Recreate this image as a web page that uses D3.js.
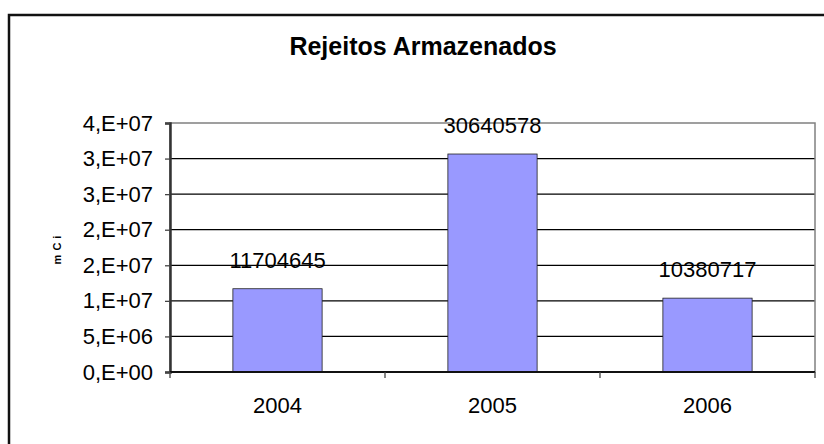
<!DOCTYPE html>
<html>
<head>
<meta charset="utf-8">
<script src="https://cdn.jsdelivr.net/npm/d3@7"></script>
<style>
  body { margin: 0; background: #fff; }
  text { font-family: "Liberation Sans", Arial, sans-serif; fill: #000; }
</style>
</head>
<body>
<svg id="chart" width="824" height="444"></svg>
<script>
//// chart data
var years = ["2004", "2005", "2006"];
var stored = [11704645, 30640578, 10380717];
var yTicks = [0, 5e6, 1e7, 1.5e7, 2e7, 2.5e7, 3e7, 3.5e7];
var yTickLabels = ["0,E+00", "5,E+06", "1,E+07", "2,E+07", "2,E+07", "3,E+07", "3,E+07", "4,E+07"];

var svg = d3.select("svg#chart");
var plot = {left: 170, right: 815, top: 123, bottom: 372};

// outer chart border (runs off the picture at right and bottom)
svg.append("rect")
   .attr("x", 9).attr("y", 15)
   .attr("width", 840).attr("height", 460)
   .attr("fill", "#fff")
   .attr("stroke", "#111")
   .attr("stroke-width", 2.5);

// title
svg.append("text")
   .attr("x", 423).attr("y", 55)
   .attr("text-anchor", "middle")
   .style("font-size", "25px")
   .style("font-weight", "bold")
   .text("Rejeitos Armazenados");

// scales
var x = d3.scaleBand()
          .domain(years)
          .range([plot.left, plot.right])
          .paddingInner(0.585)
          .paddingOuter(0.2925);

var y = d3.scaleLinear()
          .domain([0, 3.5e7])
          .range([plot.bottom, plot.top]);

// gridlines
svg.append("g")
   .selectAll("line")
   .data(yTicks.slice(1, -1))
   .enter().append("line")
   .attr("x1", plot.left).attr("x2", plot.right)
   .attr("y1", function(d) { return y(d); })
   .attr("y2", function(d) { return y(d); })
   .attr("stroke", "#000")
   .attr("stroke-width", 1.3);

// plot area border
svg.append("rect")
   .attr("x", plot.left).attr("y", plot.top)
   .attr("width", plot.right - plot.left)
   .attr("height", plot.bottom - plot.top)
   .attr("fill", "none")
   .attr("stroke", "#808080")
   .attr("stroke-width", 1.5);

// bars
svg.append("g")
   .selectAll("rect")
   .data(stored)
   .enter().append("rect")
   .attr("x", function(d, i) { return x(years[i]); })
   .attr("y", function(d) { return y(d); })
   .attr("width", x.bandwidth())
   .attr("height", function(d) { return plot.bottom - y(d); })
   .attr("fill", "#9999ff")
   .attr("stroke", "#222")
   .attr("stroke-width", 0.8);

// value labels
svg.append("g")
   .selectAll("text")
   .data(stored)
   .enter().append("text")
   .attr("x", function(d, i) { return x(years[i]) + x.bandwidth() / 2; })
   .attr("y", function(d) { return y(d) - 21; })
   .attr("text-anchor", "middle")
   .style("font-size", "22px")
   .text(function(d) { return d; });

// y axis
var yAxis = d3.axisLeft(y)
              .tickValues(yTicks)
              .tickSize(5)
              .tickPadding(12)
              .tickFormat(function(d, i) { return yTickLabels[i]; });

var gy = svg.append("g")
            .attr("transform", "translate(" + plot.left + ",0)")
            .call(yAxis);
gy.select(".domain").attr("stroke", "#333").attr("stroke-width", 2.5);
gy.selectAll(".tick line").attr("stroke", "#444").attr("stroke-width", 1.3);
gy.selectAll(".tick text")
  .style("font-size", "22px")
  .style("font-family", "'Liberation Sans', Arial, sans-serif")
  .attr("fill", "#000");

// x axis with ticks at category boundaries
svg.append("line")
   .attr("x1", plot.left).attr("x2", plot.right)
   .attr("y1", plot.bottom).attr("y2", plot.bottom)
   .attr("stroke", "#111").attr("stroke-width", 2);

var bounds = [plot.left].concat(years.map(function(d) { return x(d) - x.step() * x.paddingInner() / 2 + x.step(); }));
svg.append("g")
   .selectAll("line")
   .data(bounds)
   .enter().append("line")
   .attr("x1", function(d) { return d; })
   .attr("x2", function(d) { return d; })
   .attr("y1", plot.bottom).attr("y2", plot.bottom + 6)
   .attr("stroke", "#444").attr("stroke-width", 1.3);

svg.append("g")
   .selectAll("text")
   .data(years)
   .enter().append("text")
   .attr("x", function(d) { return x(d) + x.bandwidth() / 2; })
   .attr("y", 413)
   .attr("text-anchor", "middle")
   .style("font-size", "22px")
   .text(function(d) { return d; });

// y axis title
svg.append("text")
   .attr("transform", "translate(61,248) rotate(-90)")
   .attr("text-anchor", "middle")
   .style("font-size", "11px")
   .style("font-weight", "bold")
   .style("letter-spacing", "4px")
   .text("mCi");
</script>
</body>
</html>
